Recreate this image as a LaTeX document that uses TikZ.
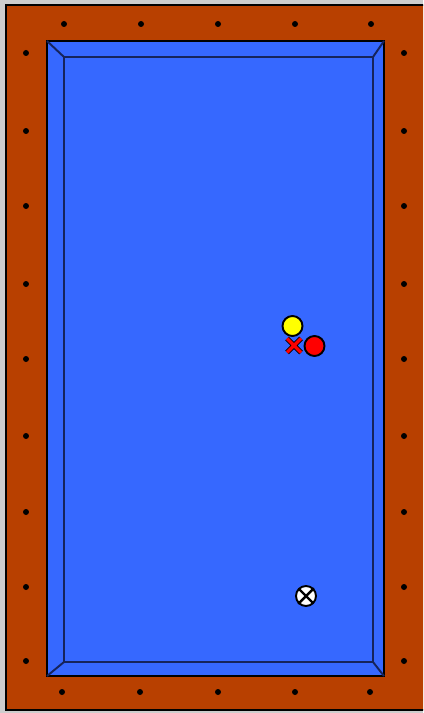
\documentclass[tikz,border=0pt]{standalone}
\usetikzlibrary{positioning}

\definecolor{railbrown}{RGB}{184,64,0}
\definecolor{clothblue}{RGB}{54,104,255}
\definecolor{edgenavy}{RGB}{22,36,92}
\definecolor{margingray}{RGB}{205,205,205}
\definecolor{ballyellow}{RGB}{255,255,0}
\definecolor{ballred}{RGB}{255,0,0}

\begin{document}
\begin{tikzpicture}[x=0.02cm,y=-0.02cm,
			rail/.style={fill=railbrown,draw=black,line width=1.1pt},
			cushion/.style={fill=clothblue,draw=black,line width=1.4pt},
			bed/.style={draw=edgenavy,line width=1.1pt},
			sight/.style={circle,fill=black,inner sep=0pt,minimum size=0.12cm},
			ball/.style={circle,draw=black,line width=1.1pt,inner sep=0pt,minimum size=0.40cm}]
			
			\useasboundingbox (0,0) rectangle (423,713);
			\clip (0,0) rectangle (423,713);
			\fill[margingray] (0,0) rectangle (423,713);
			
			% rail and sights
			\draw[rail] (6,5) rectangle (430,710);
			
			\foreach \x in {64,141,218,295,371}
				\node[sight] at (\x,24){};
			\foreach \x in {62,140,218,295,370}
				\node[sight] at (\x,692){};
			\foreach \y in {53,131,206,284,359,436,512,587,661}{
				\node[sight] at (26,\y){};
				\node[sight] at (404,\y){};
			}
			
			% cushion and bed
			\draw[cushion] (47,41) rectangle (384,676);
			\draw[bed] (64,57) rectangle (373,662);
			\draw[bed] (47,41)--(64,57);
			\draw[bed] (384,41)--(373,57);
			\draw[bed] (384,676)--(373,662);
			\draw[bed] (47,676)--(64,662);
			
			% balls
			\node[ball,fill=ballyellow] (yellow) at (292.5,326){};
			
			\node[ball,fill=ballred] (red) at (314.5,346){};
			
			\node[ball,fill=white] (cue) at (306,596){};
			
			\coordinate (mark) at (294,345.5);
			
			\draw[line width=1.4pt,shorten <=0.3pt,shorten >=0.3pt] (cue.45)--(cue.225) (cue.135)--(cue.315);
			
			\draw[black,line width=3pt] ([shift={(-7,-7)}]mark)--([shift={(7,7)}]mark) ([shift={(7,-7)}]mark)--([shift={(-7,7)}]mark);
			\draw[ballred,line width=2pt] ([shift={(-7,-7)}]mark)--([shift={(7,7)}]mark) ([shift={(7,-7)}]mark)--([shift={(-7,7)}]mark);
			
		\end{tikzpicture}
\end{document}
